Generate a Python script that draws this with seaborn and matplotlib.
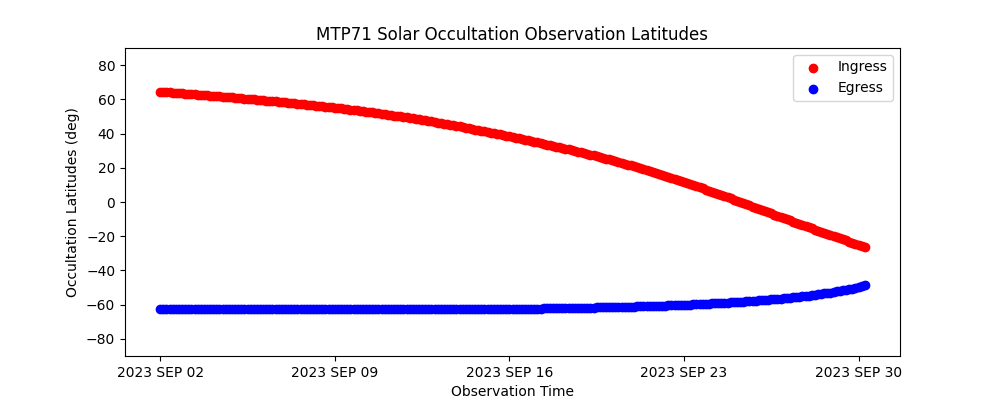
import matplotlib
matplotlib.use("Agg")
import matplotlib.pyplot as plt
import matplotlib.dates as mdates
from matplotlib.ticker import FuncFormatter
import seaborn as sns
import pandas as pd

# ---- data ----
start_time = "2023-09-02 00:00"
step = "3h"

ingress_lat = [
    64.5, 64.35, 64.2, 64.1, 63.95, 63.8, 63.7, 63.55,
    63.4, 63.25, 63.1, 62.95, 62.8, 62.65, 62.5, 62.35,
    62.2, 62.05, 61.9, 61.75, 61.6, 61.4, 61.25, 61.1,
    60.95, 60.8, 60.6, 60.45, 60.3, 60.1, 59.95, 59.8,
    59.65, 59.5, 59.3, 59.15, 58.95, 58.8, 58.6, 58.45,
    58.25, 58.1, 57.9, 57.7, 57.5, 57.3, 57.1, 56.9,
    56.75, 56.55, 56.35, 56.15, 55.95, 55.75, 55.55, 55.35,
    55.15, 54.9, 54.7, 54.5, 54.25, 54.05, 53.8, 53.6,
    53.35, 53.1, 52.85, 52.6, 52.35, 52.1, 51.85, 51.6,
    51.35, 51.1, 50.8, 50.55, 50.25, 50.0, 49.7, 49.45,
    49.15, 48.85, 48.55, 48.25, 47.95, 47.65, 47.35, 47.05,
    46.75, 46.4, 46.1, 45.8, 45.45, 45.1, 44.8, 44.5,
    44.15, 43.8, 43.45, 43.1, 42.7, 42.35, 42.0, 41.65,
    41.3, 40.95, 40.55, 40.2, 39.8, 39.45, 39.05, 38.7,
    38.3, 37.9, 37.5, 37.15, 36.75, 36.35, 35.95, 35.6,
    35.2, 34.8, 34.4, 34.0, 33.6, 33.2, 32.8, 32.4,
    32.0, 31.6, 31.15, 30.75, 30.3, 29.9, 29.45, 29.05,
    28.6, 28.15, 27.7, 27.25, 26.75, 26.3, 25.8, 25.35,
    24.9, 24.4, 23.9, 23.4, 22.9, 22.4, 21.9, 21.4,
    20.9, 20.35, 19.8, 19.3, 18.75, 18.2, 17.7, 17.15,
    16.6, 16.0, 15.4, 14.8, 14.2, 13.6, 13.0, 12.4,
    11.8, 11.15, 10.5, 9.9, 9.25, 8.6, 7.95, 7.3,
    6.7, 6.0, 5.35, 4.7, 4.05, 3.4, 2.7, 2.05,
    1.4, 0.7, 0.05, -0.65, -1.3, -2.0, -2.65, -3.3,
    -4.0, -4.7, -5.35, -6.05, -6.7, -7.4, -8.05, -8.7,
    -9.4, -10.1, -10.75, -11.45, -12.1, -12.8, -13.45, -14.1,
    -14.8, -15.45, -16.1, -16.75, -17.4, -18.0, -18.65, -19.3,
    -19.9, -20.55, -21.2, -21.85, -22.45, -23.1, -23.75, -24.4,
    -25.0, -25.6, -26.2,
]

egress_lat = [
    -62.6, -62.6, -62.6, -62.6, -62.6, -62.6, -62.6, -62.6,
    -62.6, -62.6, -62.6, -62.6, -62.6, -62.6, -62.6, -62.6,
    -62.6, -62.6, -62.6, -62.6, -62.6, -62.6, -62.6, -62.6,
    -62.6, -62.6, -62.6, -62.6, -62.6, -62.6, -62.6, -62.6,
    -62.6, -62.6, -62.6, -62.6, -62.6, -62.6, -62.6, -62.6,
    -62.6, -62.6, -62.6, -62.6, -62.6, -62.6, -62.6, -62.6,
    -62.6, -62.6, -62.6, -62.6, -62.6, -62.6, -62.6, -62.6,
    -62.6, -62.6, -62.6, -62.6, -62.6, -62.6, -62.6, -62.6,
    -62.6, -62.6, -62.6, -62.6, -62.6, -62.6, -62.6, -62.6,
    -62.6, -62.6, -62.6, -62.6, -62.6, -62.6, -62.6, -62.6,
    -62.6, -62.6, -62.6, -62.6, -62.6, -62.6, -62.6, -62.6,
    -62.6, -62.6, -62.6, -62.6, -62.6, -62.6, -62.6, -62.6,
    -62.6, -62.6, -62.6, -62.6, -62.6, -62.6, -62.6, -62.6,
    -62.6, -62.6, -62.6, -62.6, -62.55, -62.55, -62.55, -62.5,
    -62.5, -62.5, -62.45, -62.45, -62.4, -62.4, -62.35, -62.3,
    -62.3, -62.3, -62.25, -62.2, -62.2, -62.15, -62.15, -62.1,
    -62.1, -62.05, -62.0, -62.0, -61.95, -61.9, -61.9, -61.85,
    -61.8, -61.75, -61.7, -61.7, -61.65, -61.6, -61.55, -61.5,
    -61.5, -61.45, -61.4, -61.35, -61.3, -61.25, -61.2, -61.15,
    -61.1, -61.05, -61.0, -60.9, -60.85, -60.8, -60.75, -60.7,
    -60.6, -60.55, -60.5, -60.45, -60.35, -60.3, -60.25, -60.2,
    -60.1, -60.05, -59.95, -59.9, -59.8, -59.7, -59.65, -59.55,
    -59.4, -59.3, -59.2, -59.1, -59.0, -58.9, -58.8, -58.7,
    -58.6, -58.5, -58.35, -58.25, -58.1, -58.0, -57.85, -57.7,
    -57.5, -57.35, -57.2, -57.05, -56.9, -56.75, -56.55, -56.4,
    -56.2, -56.05, -55.85, -55.65, -55.45, -55.3, -55.1, -54.9,
    -54.7, -54.45, -54.2, -53.95, -53.7, -53.45, -53.2, -52.9,
    -52.6, -52.3, -52.0, -51.7, -51.35, -51.0, -50.6, -50.2,
    -49.8, -49.2, -48.5,
]

tick_dates = ["2023-09-02", "2023-09-09", "2023-09-16", "2023-09-23", "2023-09-30"]
y_ticks = [-80, -60, -40, -20, 0, 20, 40, 60, 80]

# ---- build ----
times = pd.date_range(start_time, periods=len(ingress_lat), freq=step)
df = pd.DataFrame({"time": times, "ingress": ingress_lat, "egress": egress_lat})

fig, ax = plt.subplots(figsize=(10, 4), dpi=100)
sns.scatterplot(data=df, x="time", y="ingress", color="red", s=36,
                edgecolor="face", linewidth=1.0, label="Ingress", ax=ax)
sns.scatterplot(data=df, x="time", y="egress", color="blue", s=36,
                edgecolor="face", linewidth=1.0, label="Egress", ax=ax)

ax.set_ylim(-90, 90)
ax.set_yticks(y_ticks)
ax.set_xticks(pd.to_datetime(tick_dates))
ax.xaxis.set_major_formatter(
    FuncFormatter(lambda v, p: mdates.num2date(v).strftime("%Y %b %d").upper()))
ax.set_title("MTP71 Solar Occultation Observation Latitudes")
ax.set_xlabel("Observation Time")
ax.set_ylabel("Occultation Latitudes (deg)")
ax.legend(loc="upper right")

fig.savefig("out.png", dpi=100)
